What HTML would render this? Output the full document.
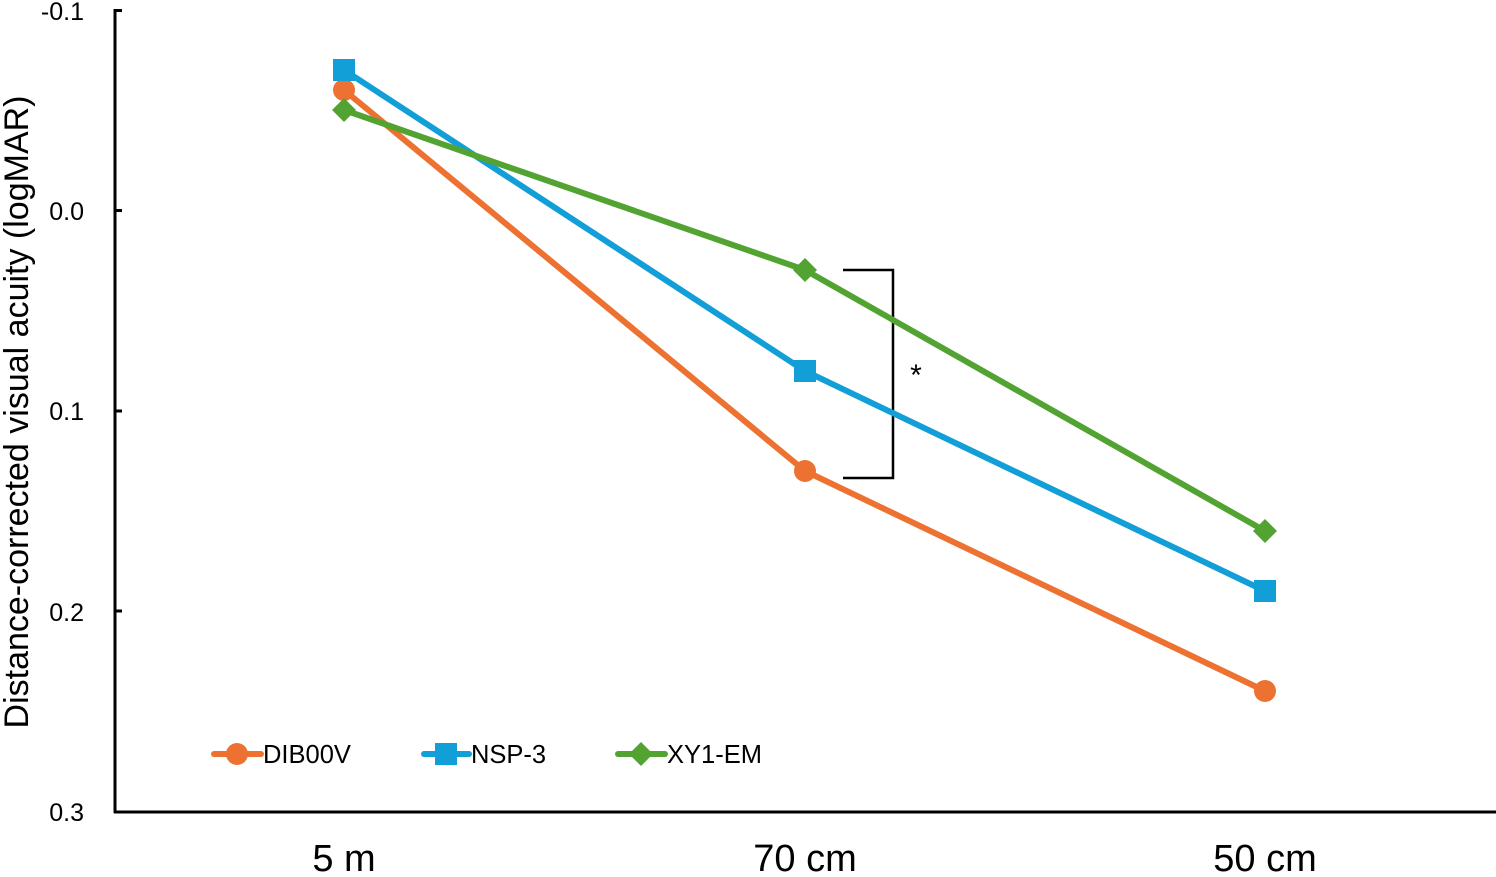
<!DOCTYPE html>
<html><head><meta charset="utf-8"><style>body{margin:0;background:#fff}</style></head><body>
<svg width="1496" height="872" xmlns="http://www.w3.org/2000/svg" font-family="Liberation Sans, Arial, sans-serif">
<g stroke="#000" stroke-width="3" fill="none">
<line x1="115" y1="9" x2="115" y2="813"/>
<line x1="114" y1="812" x2="1496" y2="812"/>
<line x1="115" y1="10.5" x2="122" y2="10.5"/>
<line x1="115" y1="210.5" x2="122" y2="210.5"/>
<line x1="115" y1="411" x2="122" y2="411"/>
<line x1="115" y1="611" x2="122" y2="611"/>
<polyline stroke-width="2.5" points="843,270 893,270 893,478 843,478"/>
</g>
<g font-size="25" text-anchor="end" fill="#000">
<text x="84" y="20">-0.1</text><text x="84" y="220">0.0</text><text x="84" y="420">0.1</text><text x="84" y="621">0.2</text><text x="84" y="821">0.3</text>
</g>
<g font-size="38" text-anchor="middle"><text x="344" y="871">5 m</text><text x="805" y="871">70 cm</text><text x="1265" y="871">50 cm</text></g>
<text transform="translate(28,412) rotate(-90)" font-size="34" text-anchor="middle">Distance-corrected visual acuity (logMAR)</text>
<text x="916" y="385" font-size="30" text-anchor="middle">*</text>
<g stroke-width="6" fill="none" stroke-linejoin="round" stroke-linecap="round">
<polyline stroke="#ed7232" points="344,90 805,471 1265,691"/>
<polyline stroke="#129fd8" points="344,70 805,371 1265,591"/>
<polyline stroke="#53a332" points="344,110 805,270 1265,531"/>
<line stroke="#ed7232" x1="214" y1="754" x2="261" y2="754"/>
<line stroke="#129fd8" x1="424" y1="754" x2="469" y2="754"/>
<line stroke="#53a332" x1="618" y1="754" x2="665" y2="754"/>
</g>
<g fill="#ed7232"><circle cx="344" cy="90" r="11"/><circle cx="805" cy="471" r="11"/><circle cx="1265" cy="691" r="11"/><circle cx="237" cy="754" r="11"/></g>
<g fill="#129fd8"><rect x="333" y="59" width="22" height="22"/><rect x="794" y="360" width="22" height="22"/><rect x="1254" y="580" width="22" height="22"/><rect x="435" y="743" width="22" height="22"/></g>
<g fill="#53a332"><path d="M344 98l12 12-12 12-12-12z"/><path d="M805 258l12 12-12 12-12-12z"/><path d="M1265 519l12 12-12 12-12-12z"/><path d="M641 742l12 12-12 12-12-12z"/></g>
<g font-size="25.5"><text x="263" y="763">DIB00V</text><text x="471" y="763">NSP-3</text><text x="667" y="763">XY1-EM</text></g>
</svg>
</body></html>
